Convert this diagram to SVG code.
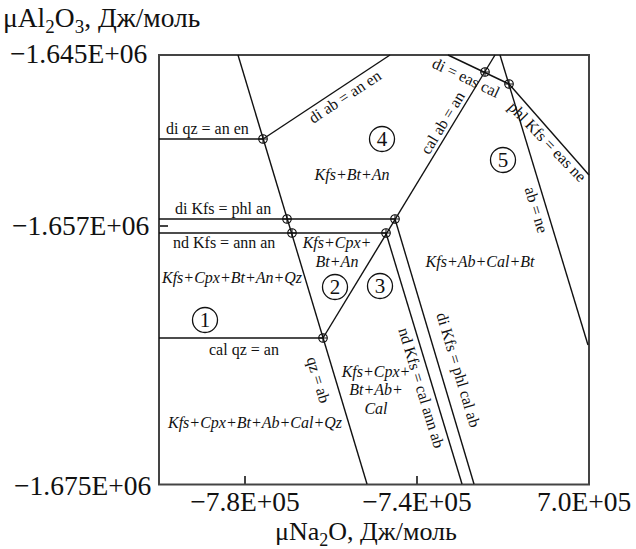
<svg xmlns="http://www.w3.org/2000/svg" width="636" height="549" viewBox="0 0 636 549">
<defs>
<style>
text{font-family:"Liberation Serif","Times New Roman",serif;fill:#111}
.ax{font-size:27.5px}
.tt{font-size:26px}
.lb{font-size:16px}
.ph{font-size:16px;font-style:italic}
.num{font-size:21px;text-anchor:middle}
.ln{stroke:#111;stroke-width:1.4;fill:none}
.fr{stroke:#444;stroke-width:2;fill:none}
.mk{stroke:#111;stroke-width:1.1;fill:none}
.rc{stroke:#111;stroke-width:1.3;fill:none}
</style>
<g id="pt"><circle r="4.3" class="mk"/><path d="M-4.3 0H4.3M0 -4.3V4.3" class="mk"/></g>
</defs>
<rect width="636" height="549" fill="#fff"/>
<g id="axes">
<rect x="159" y="55" width="430" height="429.5" class="fr"/>
<path d="M245 484V476M417 484V476M159 226H168" class="fr" stroke-width="1.5"/>
<text x="3" y="27" font-size="27.5">μAl<tspan font-size="19" dy="6">2</tspan><tspan dy="-6">O</tspan><tspan font-size="19" dy="6">3</tspan><tspan dy="-6">, Дж/моль</tspan></text>
<text class="ax" x="10" y="63">−1.645E+06</text>
<text class="ax" x="12" y="235">−1.657E+06</text>
<text class="ax" x="14" y="495">−1.675E+06</text>
<text class="ax" x="245" y="511" text-anchor="middle">−7.8E+05</text>
<text class="ax" x="417" y="511" text-anchor="middle">−7.4E+05</text>
<text class="ax" x="537" y="511">7.0E+05</text>
<text class="tt" x="366" y="540" text-anchor="middle">μNa<tspan font-size="18" dy="6">2</tspan><tspan dy="-6">O, Дж/моль</tspan></text>
</g>
<g id="connectors">
<path class="ln" d="M238 55L367 484"/>
<path class="ln" d="M323 338L495 55"/>
<path class="ln" d="M159 139H263"/>
<path class="ln" d="M263 139L390 55"/>
<path class="ln" d="M159 219H395"/>
<path class="ln" d="M159 233H386"/>
<path class="ln" d="M159 338H323"/>
<path class="ln" d="M386 233L462 484"/>
<path class="ln" d="M395 219L474 484"/>
<path class="ln" d="M448 55L509 84"/>
<path class="ln" d="M509 84L589 175"/>
<path class="ln" d="M500 55L588 345"/>
</g>
<g id="points">
<use href="#pt" x="263" y="139"/>
<use href="#pt" x="287" y="219"/>
<use href="#pt" x="292" y="233"/>
<use href="#pt" x="323" y="338"/>
<use href="#pt" x="386" y="233"/>
<use href="#pt" x="395" y="219"/>
<use href="#pt" x="485" y="72"/>
<use href="#pt" x="509" y="84"/>
</g>
<g id="reaction-labels" class="lb">
<text x="166" y="134">di qz = an en</text>
<text x="175" y="214">di Kfs = phl an</text>
<text x="173" y="248">nd Kfs = ann an</text>
<text x="209" y="355">cal qz = an</text>
<text text-anchor="middle" transform="translate(345,97) rotate(-33.3)" dy="5">di ab = an en</text>
<text text-anchor="middle" transform="translate(466,78) rotate(25.4)" dy="5">di = eas cal</text>
<text text-anchor="middle" transform="translate(547,142) rotate(46)" dy="5">phl Kfs = eas ne</text>
<text text-anchor="middle" transform="translate(443,123) rotate(-58.7)" dy="5">cal ab = an</text>
<text text-anchor="middle" transform="translate(536,210) rotate(73.2)" dy="5">ab = ne</text>
<text text-anchor="middle" transform="translate(318,380) rotate(73.3)" dy="5">qz = ab</text>
<text text-anchor="middle" transform="translate(421,388) rotate(73.2)" dy="5">nd Kfs = cal ann ab</text>
<text text-anchor="middle" transform="translate(458,370) rotate(73.4)" dy="5">di Kfs = phl cal ab</text>
</g>
<g id="field-1">
<circle cx="205" cy="320" r="12.5" class="rc"/><text class="num" x="205" y="327">1</text>
<text class="ph" x="162" y="283">Kfs+Cpx+Bt+An+Qz</text>
</g>
<g id="field-2">
<circle cx="335" cy="287" r="12.5" class="rc"/><text class="num" x="335" y="294">2</text>
<text class="ph" x="337" y="248" text-anchor="middle">Kfs+Cpx+</text>
<text class="ph" x="337" y="267" text-anchor="middle">Bt+An</text>
</g>
<g id="field-3">
<circle cx="380" cy="286" r="12.5" class="rc"/><text class="num" x="380" y="293">3</text>
<text class="ph" x="376" y="377" text-anchor="middle">Kfs+Cpx+</text>
<text class="ph" x="376" y="395" text-anchor="middle">Bt+Ab+</text>
<text class="ph" x="376" y="414" text-anchor="middle">Cal</text>
</g>
<g id="field-4">
<circle cx="382" cy="139" r="12.5" class="rc"/><text class="num" x="382" y="146">4</text>
<text class="ph" x="352" y="180" text-anchor="middle">Kfs+Bt+An</text>
</g>
<g id="field-5">
<circle cx="503" cy="160" r="12.5" class="rc"/><text class="num" x="503" y="167">5</text>
</g>
<g id="field-kfs-ab-cal-bt">
<text class="ph" x="480" y="267" text-anchor="middle">Kfs+Ab+Cal+Bt</text>
</g>
<g id="field-qz">
<text class="ph" x="255" y="428" text-anchor="middle">Kfs+Cpx+Bt+Ab+Cal+Qz</text>
</g>
</svg>
